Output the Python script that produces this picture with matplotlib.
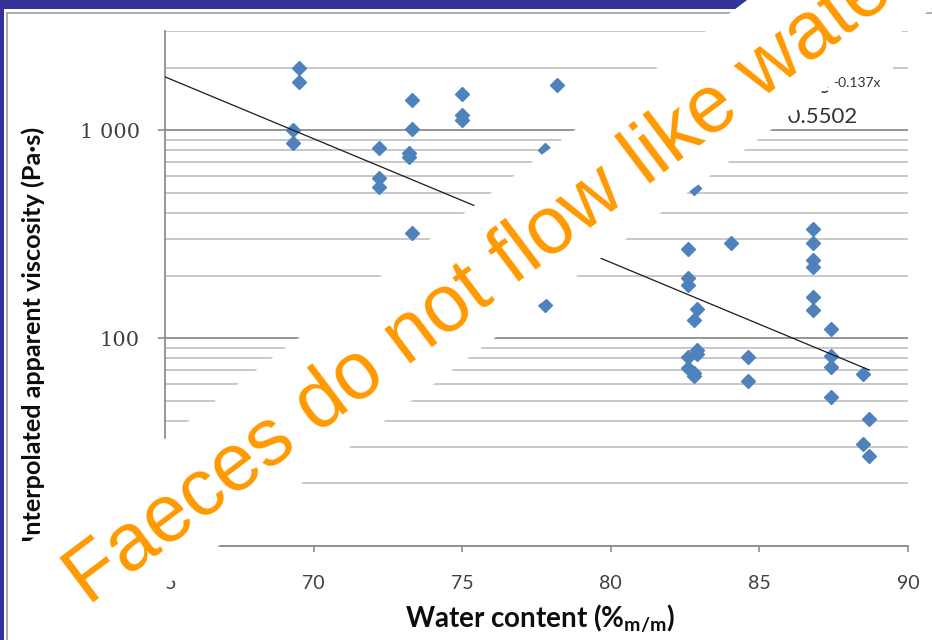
import numpy as np
import matplotlib
matplotlib.use("Agg")
import matplotlib.pyplot as plt
from matplotlib.patches import Polygon, Rectangle
from matplotlib.lines import Line2D
from matplotlib.ticker import FixedLocator, FixedFormatter, LogLocator, NullFormatter

# water content (% m/m) and interpolated apparent viscosity (Pa.s) per sample
water = [69.5, 69.5, 69.3, 69.3,
         72.2, 72.2, 72.2,
         73.3, 73.3, 73.2, 73.2, 73.3,
         75.0, 75.0, 75.0,
         78.2, 77.8, 77.8,
         82.8, 82.6, 82.6, 82.6, 82.9, 82.8, 82.9, 82.9, 82.6, 82.6, 82.8, 82.8,
         84.05, 84.6, 84.6,
         86.8, 86.8, 86.8, 86.8, 86.8, 86.8,
         87.4, 87.4, 87.4, 87.4,
         88.5, 88.7, 88.5, 88.7]
viscosity = [2000, 1700, 1000, 865,
             820, 590, 532,
             1400, 1010, 775, 742, 320,
             1490, 1180, 1117,
             1650, 800, 144,
             525, 268, 194, 180, 138, 122, 88, 84, 81, 72, 68, 66,
             288, 81, 62,
             336, 288, 237, 220, 158, 136,
             111, 82, 73, 52,
             67, 41, 31, 27]

x_ticks = [65, 70, 75, 80, 85, 90]
y_ticks = [10, 100, 1000]
y_tick_labels = ["10", "100", "1 000"]

# exponential trendline  y = a * exp(b * x)
trend_a = 1.33e7
trend_b = -0.137
trend_r2 = 0.5502

W, H = 932, 640
fig = plt.figure(figsize=(W / 100, H / 100), dpi=100)
plt.rcParams["font.family"] = ["Lato", "DejaVu Sans"]
plt.rcParams["mathtext.fontset"] = "custom"
plt.rcParams["mathtext.rm"] = "Lato"


def fpos(x, y):
    # pixel position (from top-left) -> figure fraction
    return x / W, 1 - y / H


ax = fig.add_axes([165 / W, 1 - 546 / H, (908 - 165) / W, (546 - 31) / H])
ax.set_yscale("log")
ax.set_xlim(65, 90)
ax.set_ylim(10, 3000)

ax.plot(water, viscosity, linestyle="none", marker="D", markersize=7.4,
        color="#4F81BD", markeredgecolor="#4F81BD", zorder=3)

tx = np.linspace(65, max(water), 100)
ax.plot(tx, trend_a * np.exp(trend_b * tx), color="#1a1a1a", lw=0.9, zorder=4)

ax.xaxis.set_major_locator(FixedLocator(x_ticks))
ax.yaxis.set_major_locator(FixedLocator(y_ticks))
ax.yaxis.set_major_formatter(FixedFormatter(y_tick_labels))
ax.yaxis.set_minor_locator(LogLocator(base=10, subs=range(2, 10)))
ax.yaxis.set_minor_formatter(NullFormatter())

ax.grid(True, axis="y", which="minor", color="#C4C4C4", lw=1.3)
ax.grid(True, axis="y", which="major", color="#8C8C8C", lw=1.3)
ax.set_axisbelow(True)

for s in ("top", "right"):
    ax.spines[s].set_visible(False)
for s in ("left", "bottom"):
    ax.spines[s].set_color("#8C8C8C")
    ax.spines[s].set_linewidth(1.3)

ax.tick_params(axis="x", which="major", direction="out", length=4, width=1.2,
               color="#8C8C8C", pad=17, labelsize=14, labelcolor="#404040")
ax.tick_params(axis="y", which="major", direction="out", length=5, width=1.2,
               color="#8C8C8C", pad=13, labelsize=15, labelcolor="#404040")
ax.tick_params(axis="y", which="minor", length=0)
for lab in ax.get_yticklabels():
    lab.set_fontfamily("DejaVu Serif")

ax.set_xlabel("Water content (%$_{\\mathregular{m/m}}$)", fontsize=20,
              fontweight="bold", color="#0d0d0d")
ax.xaxis.set_label_coords(0.505, -0.11)
ax.set_ylabel("Interpolated apparent viscosity (Pa·s)", fontsize=18.2,
              fontweight="bold", color="#0d0d0d")
ax.yaxis.set_label_coords(-0.1615, 0.41)

# trendline label box with equation and R squared
fig.add_artist(Rectangle(fpos(700, 126), 193 / W, 76 / H, transform=fig.transFigure,
                         facecolor="white", edgecolor="none", zorder=0.5))
fig.text(*fpos(829, 93), "y = 1E+07e", fontsize=15, color="#333333",
         ha="right", va="baseline", zorder=1)
fig.text(*fpos(833, 87), "-0.137x", fontsize=10, color="#333333",
         ha="left", va="baseline", zorder=1)
fig.text(*fpos(857, 123), "R² = %.4f" % trend_r2, fontsize=16, color="#333333",
         ha="right", va="baseline", zorder=1)

# slide frame
fig.add_artist(Rectangle((0, 1 - 9 / H), 1, 9 / H, transform=fig.transFigure,
                         color="#333399", lw=0, zorder=1))
fig.add_artist(Rectangle((0, 0), 4 / W, 1, transform=fig.transFigure,
                         color="#333399", lw=0, zorder=1))
fig.add_artist(Line2D([7 / W, 1], [1 - 13 / H, 1 - 13 / H], transform=fig.transFigure,
                      color="#A6A6A6", lw=1.3, zorder=1))
fig.add_artist(Line2D([7 / W, 7 / W], [0, 1 - 13 / H], transform=fig.transFigure,
                      color="#A6A6A6", lw=1.3, zorder=1))

# white banner under the slogan
ang = np.deg2rad(37)
along = np.array([np.cos(ang), -np.sin(ang)])
across = np.array([np.sin(ang), np.cos(ang)])
p0 = np.array([12.0, 554.0])
band = [p0, p0 + 1250 * along, p0 + 1250 * along + 118 * across, p0 + 118 * across]
fig.add_artist(Polygon([fpos(*p) for p in band], closed=True, transform=fig.transFigure,
                       facecolor="white", edgecolor="none", zorder=5))

fig.text(*fpos(88, 606), "Faeces do not flow like water.", rotation=37,
         rotation_mode="anchor", ha="left", va="baseline", fontsize=58,
         color="#FF9900", family="Liberation Sans", zorder=6)

fig.savefig("out.png", dpi=100, facecolor="white")
